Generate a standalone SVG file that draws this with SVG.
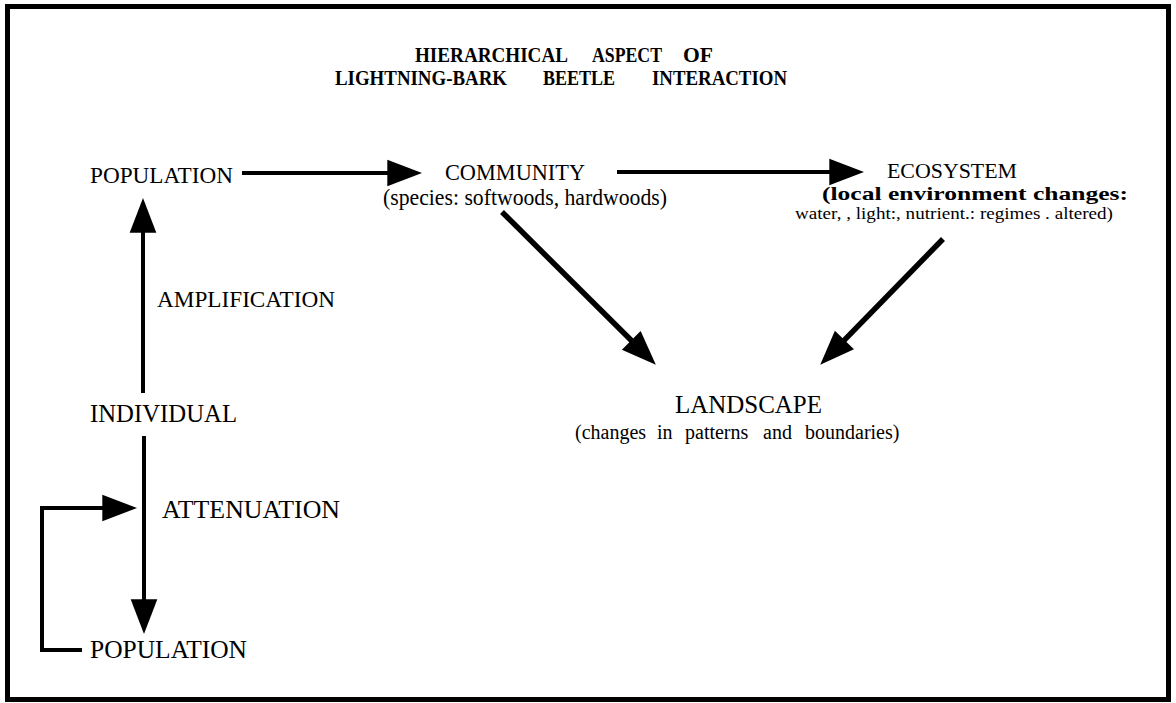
<svg xmlns="http://www.w3.org/2000/svg" width="1176" height="703" viewBox="0 0 1176 703">
<style>
text{font-family:"Liberation Serif","Times New Roman",serif;fill:#000}
.t{font-weight:bold;font-size:21px}
.m{font-size:24px}
.l{font-size:26px}
.s{font-size:20px}
.c{fill:none;stroke:#000;stroke-width:4}
.d{fill:none;stroke:#000;stroke-width:5.5}
</style>
<defs>
<marker id="ah" markerUnits="userSpaceOnUse" markerWidth="40" markerHeight="40" viewBox="0 -15 30 30" refX="14" refY="0" orient="auto" overflow="visible">
<path d="M0,-10 L26,0 L0,10 Z" fill="#000"/>
</marker>
</defs>
<rect x="7.5" y="6.5" width="1161" height="693" fill="#fff" stroke="#000" stroke-width="5"/>
<g id="title">
<text class="t" x="415" y="61.5" textLength="153" lengthAdjust="spacingAndGlyphs">HIERARCHICAL</text>
<text class="t" x="592" y="61.5" textLength="70" lengthAdjust="spacingAndGlyphs">ASPECT</text>
<text class="t" x="683" y="61.5" textLength="30" lengthAdjust="spacingAndGlyphs">OF</text>
<text class="t" x="335" y="85" textLength="172" lengthAdjust="spacingAndGlyphs">LIGHTNING-BARK</text>
<text class="t" x="543" y="85" textLength="72" lengthAdjust="spacingAndGlyphs">BEETLE</text>
<text class="t" x="652" y="85" textLength="135" lengthAdjust="spacingAndGlyphs">INTERACTION</text>
</g>
<g id="population-top">
<text class="m" x="90" y="183" textLength="143" lengthAdjust="spacingAndGlyphs">POPULATION</text>
</g>
<g id="community">
<text class="m" x="445" y="180" textLength="140" lengthAdjust="spacingAndGlyphs">COMMUNITY</text>
<text class="m" x="383" y="205" textLength="284" lengthAdjust="spacingAndGlyphs">(species: softwoods, hardwoods)</text>
</g>
<g id="ecosystem">
<text x="887" y="178" font-size="22" textLength="130" lengthAdjust="spacingAndGlyphs">ECOSYSTEM</text>
<text x="822" y="200" font-size="19" font-weight="bold" textLength="306" lengthAdjust="spacingAndGlyphs">(local environment changes:</text>
<text x="795" y="219" font-size="17" textLength="318" lengthAdjust="spacingAndGlyphs">water, , light:, nutrient.: regimes . altered)</text>
</g>
<g id="amplification">
<text class="m" x="157" y="307" textLength="178" lengthAdjust="spacingAndGlyphs">AMPLIFICATION</text>
</g>
<g id="individual">
<text class="l" x="90" y="422" textLength="147" lengthAdjust="spacingAndGlyphs">INDIVIDUAL</text>
</g>
<g id="landscape">
<text class="l" x="675" y="413" textLength="147" lengthAdjust="spacingAndGlyphs">LANDSCAPE</text>
<text class="s" y="439"><tspan x="575">(changes</tspan><tspan x="657">in</tspan><tspan x="685">patterns</tspan><tspan x="763">and</tspan><tspan x="805">boundaries)</tspan></text>
</g>
<g id="attenuation">
<text class="l" x="162" y="518" textLength="178" lengthAdjust="spacingAndGlyphs">ATTENUATION</text>
</g>
<g id="population-bottom">
<text class="l" x="90" y="658" textLength="157" lengthAdjust="spacingAndGlyphs">POPULATION</text>
</g>
<g id="connectors">
<line class="c" x1="242" y1="173" x2="406" y2="173" marker-end="url(#ah)"/>
<line class="c" x1="617" y1="172" x2="848" y2="172" marker-end="url(#ah)"/>
<line class="d" x1="502" y1="212" x2="644.5" y2="353.5" marker-end="url(#ah)"/>
<line class="d" x1="943" y1="239" x2="831.4" y2="353.4" marker-end="url(#ah)"/>
<line class="c" x1="143" y1="393" x2="143" y2="214" marker-end="url(#ah)"/>
<line class="c" x1="144" y1="436" x2="144" y2="618" marker-end="url(#ah)"/>
<polyline class="c" points="82,650 42,650 42,508 121,508" marker-end="url(#ah)"/>
</g>
</svg>
